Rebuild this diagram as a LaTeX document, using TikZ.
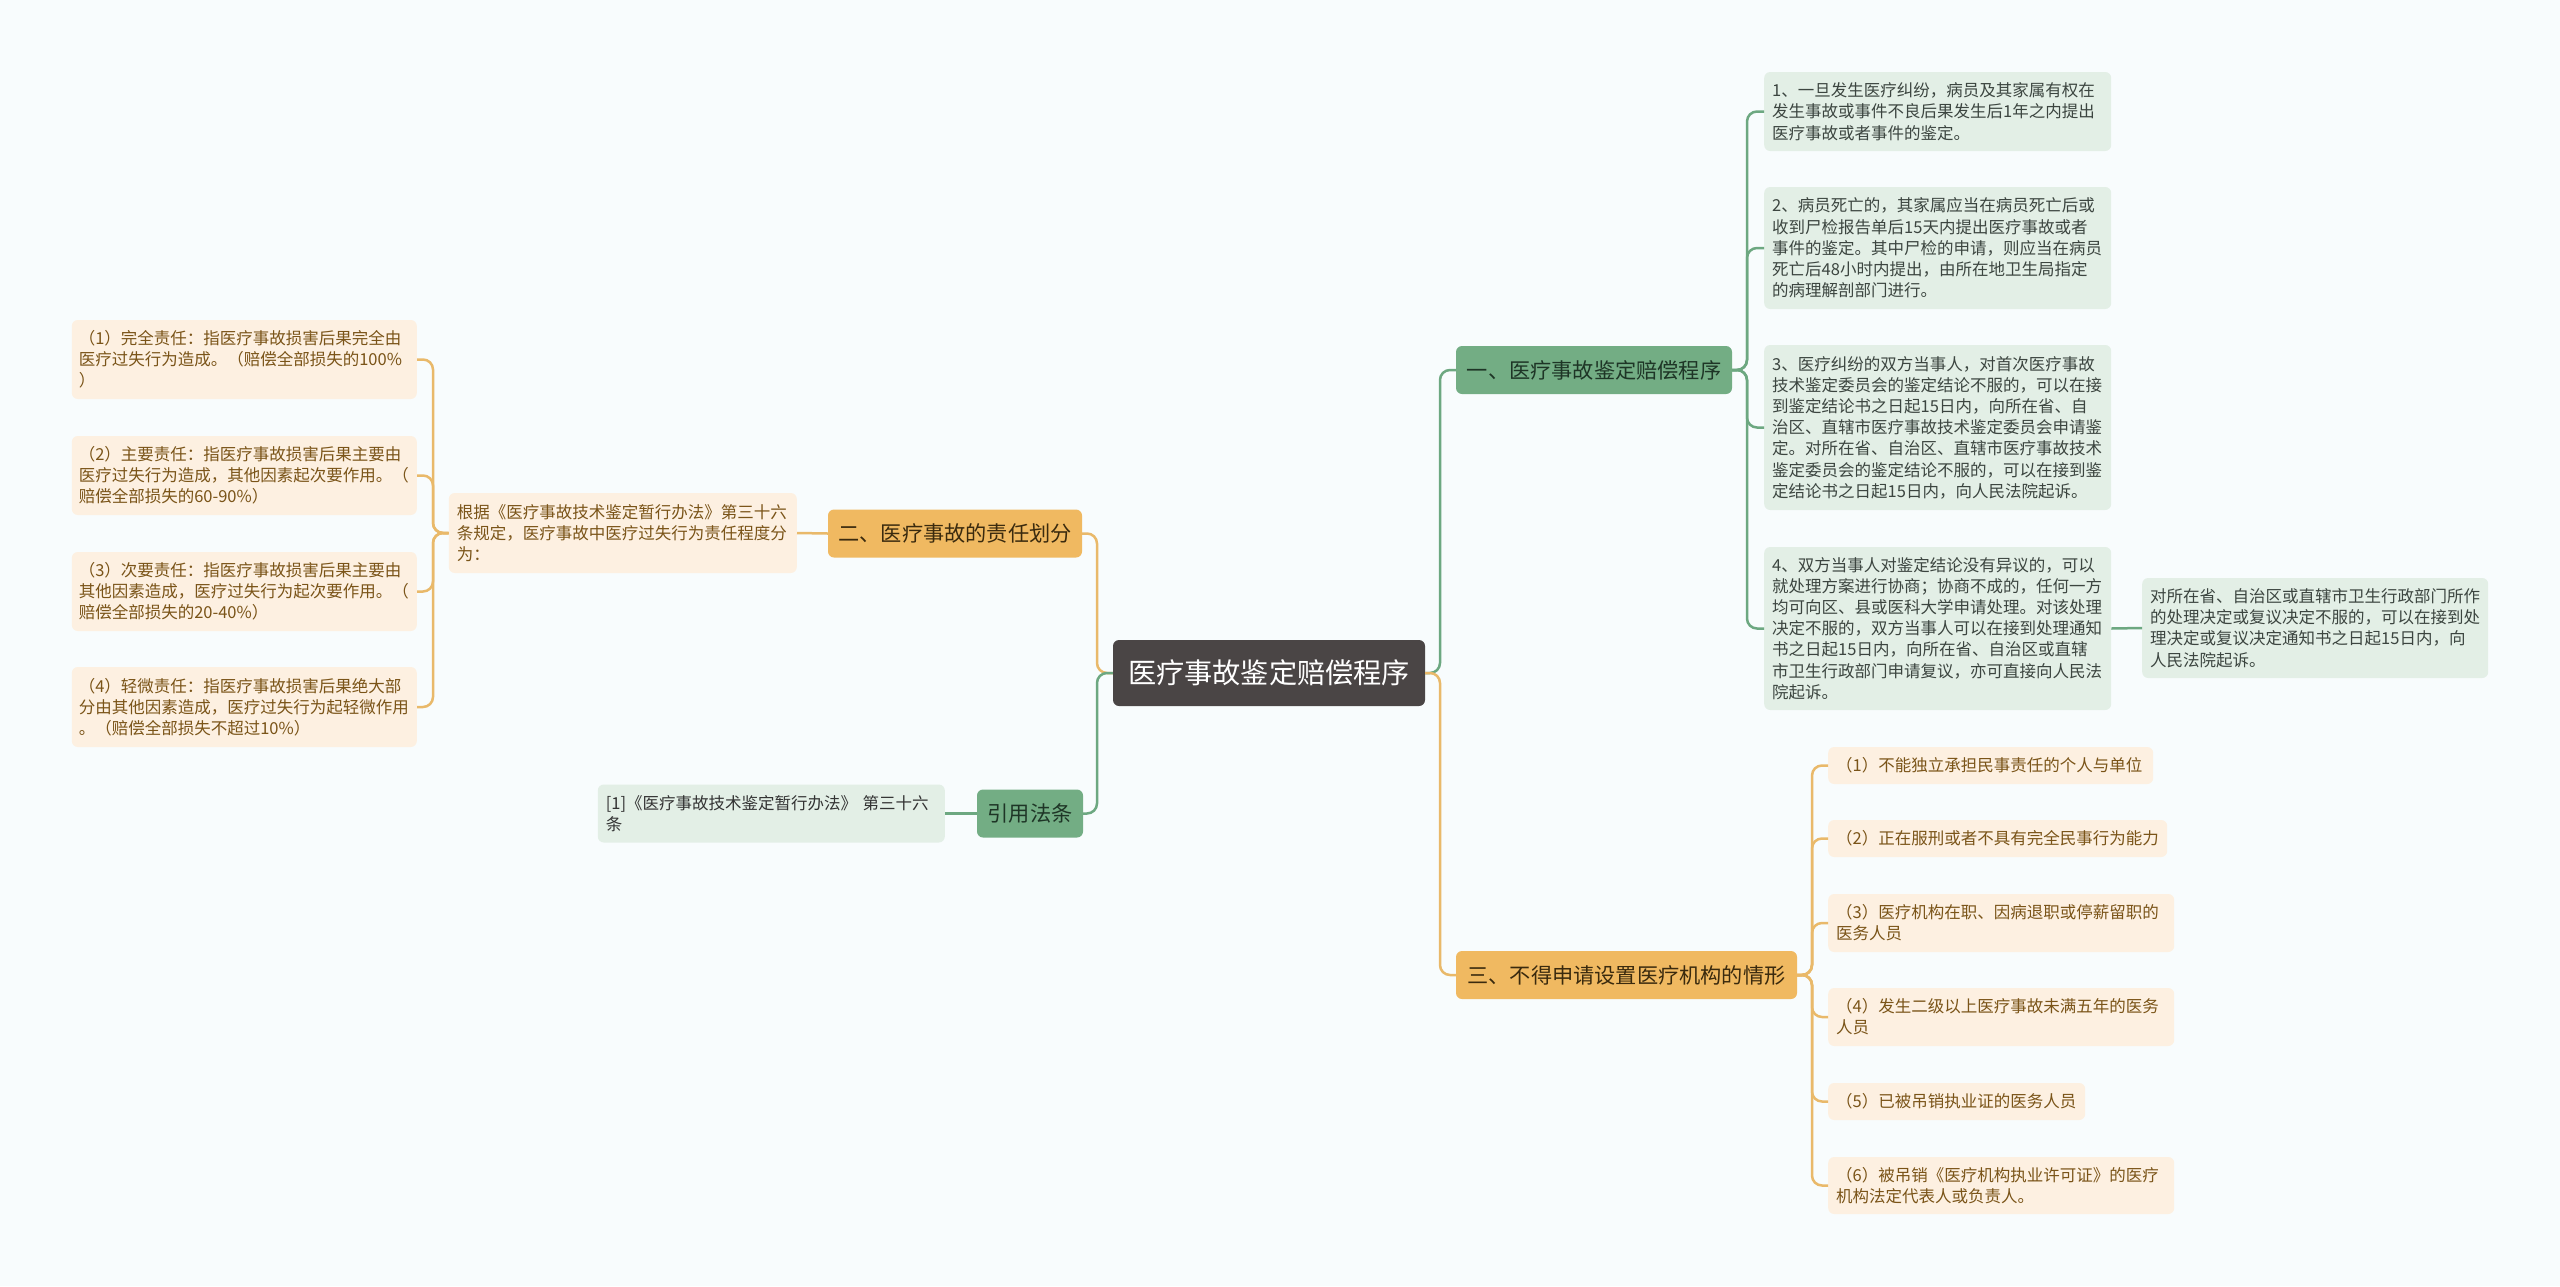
\documentclass[tikz,border=0pt]{standalone}
\usepackage{fontspec}
\setmainfont{Noto Sans CJK SC}
\definecolor{bgc}{HTML}{F8FCFD}
\definecolor{rootfill}{HTML}{4A4545}
\definecolor{gfill}{HTML}{73AD84}
\definecolor{gtextc}{HTML}{1E3526}
\definecolor{ofill}{HTML}{F0B961}
\definecolor{otextc}{HTML}{3A2A0E}
\definecolor{lgfill}{HTML}{E3EFE6}
\definecolor{lgtext}{HTML}{3C4540}
\definecolor{lofill}{HTML}{FDF0E1}
\definecolor{lotext}{HTML}{7A5418}
\definecolor{gline}{HTML}{6DA881}
\definecolor{oline}{HTML}{E9B96A}
\newcommand\leaffont{\fontsize{16.5}{21.2}\selectfont}
\newcommand\mainfont{\fontsize{21.2}{25}\selectfont}
\tikzset{
  rootbox/.style={fill=rootfill, text=white, rounded corners=6, inner sep=0,
    minimum width=312, minimum height=66, font=\fontsize{28.2}{32}\selectfont},
  gmain/.style={fill=gfill, text=gtextc, rounded corners=6, inner sep=0,
    minimum height=48, font=\mainfont},
  omain/.style={fill=ofill, text=otextc, rounded corners=6, inner sep=0,
    minimum height=48, font=\mainfont},
  gleaf/.style={fill=lgfill, text=lgtext, rounded corners=6, inner xsep=8,
    inner ysep=0, align=left, font=\leaffont},
  oleaf/.style={fill=lofill, text=lotext, rounded corners=6, inner xsep=8,
    inner ysep=0, align=left, font=\leaffont},
  gconn/.style={draw=gline, line width=2.5, rounded corners=10},
  oconn/.style={draw=oline, line width=2.5, rounded corners=10},
}
\begin{document}
\begin{tikzpicture}[x=1pt,y=-1pt]
\useasboundingbox[fill=bgc] (0,0) rectangle (2560,1286);

% trunk coordinates
\coordinate (tR) at (1440,673);
\coordinate (tL) at (1097,673);
\coordinate (tOne) at (1747,370);
\coordinate (tThree) at (1812,975);
\coordinate (tNote) at (433,533);

% main nodes
\node[rootbox] (root) at (1269,673) {医疗事故鉴定赔偿程序};
\node[gmain, minimum width=276] (one) at (1594,370) {一、医疗事故鉴定赔偿程序};
\node[omain, minimum width=254] (two) at (955,533.5) {二、医疗事故的责任划分};
\node[gmain, minimum width=106] (cite) at (1030,813.5) {引用法条};
\node[omain, minimum width=341] (three) at (1626.5,975) {三、不得申请设置医疗机构的情形};

% right green leaves
\node[gleaf, anchor=west, text width=331, minimum height=79] (b1) at (1764,111.5)
 {1、一旦发生医疗纠纷，病员及其家属有权在\\发生事故或事件不良后果发生后1年之内提出\\医疗事故或者事件的鉴定。};
\node[gleaf, anchor=west, text width=331, minimum height=122] (b2) at (1764,248)
 {2、病员死亡的，其家属应当在病员死亡后或\\收到尸检报告单后15天内提出医疗事故或者\\事件的鉴定。其中尸检的申请，则应当在病员\\死亡后48小时内提出，由所在地卫生局指定\\的病理解剖部门进行。};
\node[gleaf, anchor=west, text width=331, minimum height=165] (b3) at (1764,427.5)
 {3、医疗纠纷的双方当事人，对首次医疗事故\\技术鉴定委员会的鉴定结论不服的，可以在接\\到鉴定结论书之日起15日内，向所在省、自\\治区、直辖市医疗事故技术鉴定委员会申请鉴\\定。对所在省、自治区、直辖市医疗事故技术\\鉴定委员会的鉴定结论不服的，可以在接到鉴\\定结论书之日起15日内，向人民法院起诉。};
\node[gleaf, anchor=west, text width=331, minimum height=163] (b4) at (1764,628.5)
 {4、双方当事人对鉴定结论没有异议的，可以\\就处理方案进行协商；协商不成的，任何一方\\均可向区、县或医科大学申请处理。对该处理\\决定不服的，双方当事人可以在接到处理通知\\书之日起15日内，向所在省、自治区或直辖\\市卫生行政部门申请复议，亦可直接向人民法\\院起诉。};
\node[gleaf, anchor=west, text width=330, minimum height=100] (b4c) at (2142,628)
 {对所在省、自治区或直辖市卫生行政部门所作\\的处理决定或复议决定不服的，可以在接到处\\理决定或复议决定通知书之日起15日内，向\\人民法院起诉。};

% right orange leaves
\node[oleaf, anchor=west, text width=309, minimum height=37] (c1) at (1828,765.5)
 {（1）不能独立承担民事责任的个人与单位};
\node[oleaf, anchor=west, text width=323, minimum height=37] (c2) at (1828,838.5)
 {（2）正在服刑或者不具有完全民事行为能力};
\node[oleaf, anchor=west, text width=330, minimum height=58] (c3) at (1828,923)
 {（3）医疗机构在职、因病退职或停薪留职的\\医务人员};
\node[oleaf, anchor=west, text width=330, minimum height=58] (c4) at (1828,1017)
 {（4）发生二级以上医疗事故未满五年的医务\\人员};
\node[oleaf, anchor=west, text width=241, minimum height=37] (c5) at (1828,1101.5)
 {（5）已被吊销执业证的医务人员};
\node[oleaf, anchor=west, text width=330, minimum height=57] (c6) at (1828,1185.5)
 {（6）被吊销《医疗机构执业许可证》的医疗\\机构法定代表人或负责人。};

% left orange
\node[oleaf, anchor=east, text width=332, minimum height=80] (note) at (797,533)
 {根据《医疗事故技术鉴定暂行办法》第三十六\\条规定，医疗事故中医疗过失行为责任程度分\\为：};
\node[oleaf, anchor=east, inner xsep=7, text width=331, minimum height=79] (l1) at (417,359.5)
 {（1）完全责任：指医疗事故损害后果完全由\\医疗过失行为造成。（赔偿全部损失的100\%\\）};
\node[oleaf, anchor=east, inner xsep=7, text width=331, minimum height=79] (l2) at (417,475.5)
 {（2）主要责任：指医疗事故损害后果主要由\\医疗过失行为造成，其他因素起次要作用。（\\赔偿全部损失的60-90\%）};
\node[oleaf, anchor=east, inner xsep=7, text width=331, minimum height=79] (l3) at (417,591.5)
 {（3）次要责任：指医疗事故损害后果主要由\\其他因素造成，医疗过失行为起次要作用。（\\赔偿全部损失的20-40\%）};
\node[oleaf, anchor=east, inner xsep=7, text width=331, minimum height=80] (l4) at (417,707)
 {（4）轻微责任：指医疗事故损害后果绝大部\\分由其他因素造成，医疗过失行为起轻微作用\\。（赔偿全部损失不超过10\%）};

% left green
\node[gleaf, anchor=east, text=black!80, text width=331, minimum height=58] (ref) at (945,813.5)
 {[1]《医疗事故技术鉴定暂行办法》 第三十六\\条};

% connectors
\path[gconn] (root.east) -- (tR) |- (one.west);
\path[oconn] (root.east) -- (tR) |- (three.west);
\path[oconn] (root.west) -- (tL) |- (two.east);
\path[gconn] (root.west) -- (tL) |- (cite.east);

\foreach \b in {b1,b2,b3,b4} {\path[gconn] (one.east) -- (tOne) |- (\b.west);}
\path[gconn] (b4.east) -- (b4c.west);
\foreach \c in {c1,c2,c3,c4,c5,c6} {\path[oconn] (three.east) -- (tThree) |- (\c.west);}
\path[oconn] (two.west) -- (note.east);
\foreach \l in {l1,l2,l3,l4} {\path[oconn] (note.west) -- (tNote) |- (\l.east);}
\path[gconn] (cite.west) -- (ref.east);
\end{tikzpicture}
\end{document}
